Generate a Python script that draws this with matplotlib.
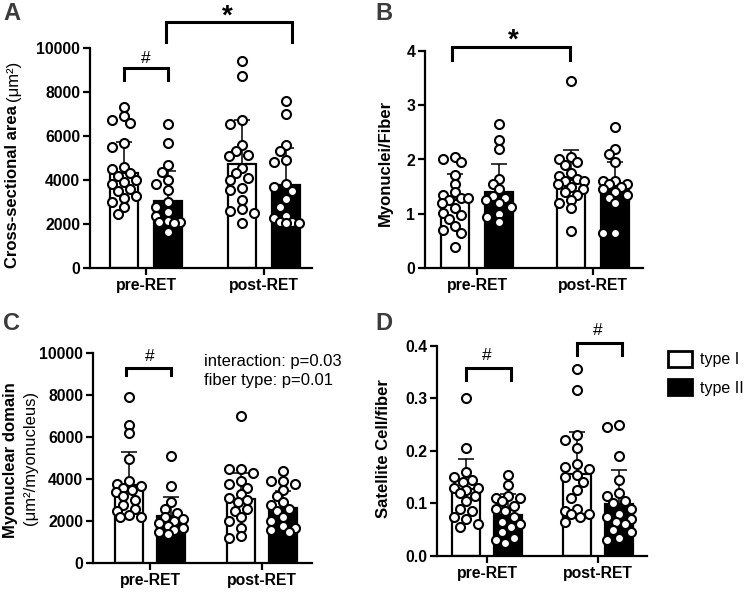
import numpy as np
import matplotlib
matplotlib.use("Agg")
import matplotlib.pyplot as plt
from matplotlib.patches import Patch

plt.rcParams['font.family'] = ['Liberation Sans', 'DejaVu Sans']

# ---------------- data ----------------
groups = ["pre-RET", "post-RET"]
fiber_types = ["type I", "type II"]

# A: cross-sectional area (um^2)
csa_pre_I = [7300, 6900, 6700, 6600, 5700, 5500, 4600, 4500, 4300, 4200, 4000, 3900, 3800, 3600, 3500, 3300, 3200, 3000, 2800, 2450]
csa_pre_II = [6550, 5700, 4700, 4350, 4000, 3800, 3550, 3000, 2800, 2550, 2350, 2150, 2100, 2100, 2050, 1650]
csa_post_I = [9400, 8700, 6700, 6550, 5600, 5300, 5150, 5100, 4550, 4300, 4100, 4000, 3650, 3550, 3100, 2700, 2600, 2500, 2050]
csa_post_II = [7600, 7000, 5600, 5300, 4900, 4800, 3800, 3700, 3500, 3150, 2800, 2350, 2300, 2100, 2100, 2050, 2050]
csa_mean = [4330, 3065, 4710, 3780]
csa_sd = [1410, 1345, 2010, 1670]

# B: myonuclei per fiber
mn_pre_I = [2.05, 2.0, 1.95, 1.72, 1.55, 1.4, 1.35, 1.3, 1.3, 1.25, 1.2, 1.1, 1.02, 0.98, 0.9, 0.78, 0.7, 0.65, 0.4]
mn_pre_II = [2.65, 2.35, 2.2, 1.65, 1.55, 1.45, 1.32, 1.3, 1.25, 1.2, 1.13, 1.0, 0.95, 0.85]
mn_post_I = [3.45, 2.05, 2.0, 1.95, 1.9, 1.75, 1.7, 1.65, 1.6, 1.6, 1.55, 1.5, 1.45, 1.4, 1.35, 1.25, 1.2, 1.1, 0.68]
mn_post_II = [2.6, 2.2, 2.1, 1.95, 1.6, 1.6, 1.55, 1.55, 1.5, 1.45, 1.4, 1.35, 1.3, 1.2, 0.65, 0.65]
mn_mean = [1.26, 1.41, 1.62, 1.50]
mn_sd = [0.47, 0.51, 0.55, 0.45]

# C: myonuclear domain
md_pre_I = [7900, 6600, 6200, 4950, 3900, 3800, 3700, 3600, 3500, 3400, 3200, 3000, 2800, 2600, 2500, 2300, 2200, 2200]
md_pre_II = [5100, 3700, 2900, 2600, 2400, 2200, 2100, 2000, 1900, 1800, 1700, 1600, 1500, 1400]
md_post_I = [7000, 4500, 4500, 4300, 3900, 3800, 3600, 3300, 3100, 3000, 2900, 2600, 2500, 2200, 2000, 1700, 1300, 1200]
md_post_II = [4400, 3900, 3900, 3800, 3500, 3200, 2900, 2800, 2600, 2500, 2200, 2000, 1800, 1700, 1600, 1500]
md_mean = [3720, 2260, 3050, 2620]
md_sd = [1600, 920, 1250, 800]

# D: satellite cells per fiber
sc_pre_I = [0.30, 0.205, 0.16, 0.15, 0.145, 0.14, 0.13, 0.13, 0.125, 0.12, 0.115, 0.105, 0.09, 0.085, 0.075, 0.07, 0.06, 0.055]
sc_pre_II = [0.155, 0.135, 0.115, 0.11, 0.11, 0.105, 0.095, 0.09, 0.085, 0.075, 0.065, 0.06, 0.055, 0.045, 0.035, 0.03, 0.025]
sc_post_I = [0.355, 0.315, 0.23, 0.22, 0.205, 0.175, 0.17, 0.165, 0.155, 0.15, 0.14, 0.125, 0.11, 0.09, 0.085, 0.08, 0.08, 0.075, 0.065]
sc_post_II = [0.25, 0.245, 0.19, 0.145, 0.12, 0.115, 0.105, 0.1, 0.09, 0.08, 0.075, 0.07, 0.065, 0.06, 0.05, 0.045, 0.035, 0.03]
sc_mean = [0.127, 0.078, 0.156, 0.099]
sc_sd = [0.057, 0.040, 0.079, 0.065]

W, H = 750, 594
fig = plt.figure(figsize=(W / 100, H / 100), dpi=100)

TICKFS = 11.3
LABFS = 12
HASHFS = 12.5
STARFS = 20


def make_axes(left, top, right, bottom, g0, g1):
    ax = fig.add_axes([left / W, 1 - bottom / H, (right - left) / W, (bottom - top) / H])
    span = g1 - g0
    ax.set_xlim((left - g0) / span, (right - g0) / span)
    return ax, span


def swarm_offsets(ax, xc, vals, min_dist=8.0, spread=13.0):
    pts = ax.transData.transform(np.column_stack([np.full(len(vals), xc), vals]))
    ypx = pts[:, 1]
    x0 = pts[0, 0]
    cands = [0, -6, 6, -12, 12, -3, 3, -9, 9, -13, 13]
    placed = []
    xs = []
    for y in ypx:
        best, bestd = 0, -1
        for c in cands:
            if abs(c) > spread:
                continue
            d = min([np.hypot(c - px, y - py) for px, py in placed] + [1e9])
            if d >= min_dist:
                best = c
                bestd = d
                break
            if d > bestd:
                best, bestd = c, d
        placed.append((best, y))
        xs.append(x0 + best)
    inv = ax.transData.inverted()
    out = inv.transform(np.column_stack([xs, ypx]))
    return out[:, 0]


def panel(ax, span, off_px, data, means, sds, ylim, yticks, yticklabels):
    ax.set_ylim(*ylim)
    off = off_px / span
    bw = 28 / span
    xpos = [0 - off, 0 + off, 1 - off, 1 + off]
    colors = ['white', 'black', 'white', 'black']
    for x, m, s, c in zip(xpos, means, sds, colors):
        ax.errorbar([x], [m], yerr=[s], fmt='none', ecolor='black', elinewidth=1.1,
                    capsize=6, capthick=1.1, zorder=1)
        ax.bar([x], [m], width=bw, color=c, edgecolor='black', linewidth=1.6, zorder=2)
    for x, vals in zip(xpos, data):
        xs = swarm_offsets(ax, x, vals)
        ax.scatter(xs, vals, s=42, facecolor='white', edgecolor='black',
                   linewidth=1.5, zorder=3, clip_on=False)
    for sp in ['top', 'right']:
        ax.spines[sp].set_visible(False)
    for sp in ['left', 'bottom']:
        ax.spines[sp].set_linewidth(1.6)
    ax.set_xticks([0, 1])
    ax.set_xticklabels(groups, fontsize=TICKFS, fontweight='bold')
    ax.set_yticks(yticks)
    ax.set_yticklabels(yticklabels, fontsize=TICKFS, fontweight='bold')
    ax.tick_params(width=1.6, length=5, direction='out', pad=2)
    return xpos


def bracket(ax, x1, x2, y_top, y_low, lw=2.2):
    ax.plot([x1, x1, x2, x2], [y_low, y_top, y_top, y_low], color='black', lw=lw,
            clip_on=False, solid_joinstyle='miter', zorder=4)


LETTER_COLOR = '#3c3c3c'

# ---------- Panel A ----------
axA, spA = make_axes(90, 47.7, 312, 268.3, 146, 264)
xA = panel(axA, spA, 22, [csa_pre_I, csa_pre_II, csa_post_I, csa_post_II], csa_mean, csa_sd,
           (0, 10000), [0, 2000, 4000, 6000, 8000, 10000], ['0', '2000', '4000', '6000', '8000', '10000'])
bracket(axA, xA[0], xA[1], 9094, 8535)
axA.text((xA[0] + xA[1]) / 2, 9300, '#', ha='center', va='baseline', fontsize=HASHFS)
bracket(axA, xA[1] - 0.02, xA[3] + 0.05, 11165, 10258)
axA.text((xA[1] + xA[3]) / 2, 11080, '*', ha='center', va='baseline', fontsize=STARFS, fontweight='bold')

fig.text(13 / W, 1 - 101 / H, 'Cross-sectional area ', rotation=90, rotation_mode='anchor',
         ha='right', va='center', fontsize=LABFS, fontweight='bold')
fig.text(13 / W, 1 - 101 / H, '(μm²)', rotation=90, rotation_mode='anchor',
         ha='left', va='center', fontsize=LABFS)

# ---------- Panel B ----------
axB, spB = make_axes(425, 50.7, 643, 268.3, 477, 593)
xB = panel(axB, spB, 22, [mn_pre_I, mn_pre_II, mn_post_I, mn_post_II], mn_mean, mn_sd,
           (0, 4), [0, 1, 2, 3, 4], ['0', '1', '2', '3', '4'])
bracket(axB, xB[0] - 0.03, xB[2] - 0.01, 4.07, 3.82)
axB.text((xB[0] + xB[2]) / 2, 4.05, '*', ha='center', va='baseline', fontsize=STARFS, fontweight='bold')
fig.text(385 / W, 1 - 163 / H, 'Myonuclei/Fiber', rotation=90, ha='center', va='center',
         fontsize=LABFS, fontweight='bold')

# ---------- Panel C ----------
axC, spC = make_axes(93, 353.3, 312, 563.3, 150, 262)
xC = panel(axC, spC, 21, [md_pre_I, md_pre_II, md_post_I, md_post_II], md_mean, md_sd,
           (0, 10000), [0, 2000, 4000, 6000, 8000, 10000], ['0', '2000', '4000', '6000', '8000', '10000'])
bracket(axC, xC[0] - 0.03, xC[1], 9286, 8967)
axC.text((xC[0] + xC[1]) / 2, 9650, '#', ha='center', va='baseline', fontsize=HASHFS)
fig.text(204 / W, 1 - 361.5 / H, 'interaction: p=0.03', ha='left', va='center', fontsize=12)
fig.text(204 / W, 1 - 380.5 / H, 'fiber type: p=0.01', ha='left', va='center', fontsize=12)
fig.text(11 / W, 1 - 460 / H, 'Myonuclear domain', rotation=90, ha='center', va='center',
         fontsize=LABFS, fontweight='bold')
fig.text(31 / W, 1 - 458 / H, '(μm²/myonucleus)', rotation=90, ha='center', va='center',
         fontsize=LABFS)

# ---------- Panel D ----------
axD, spD = make_axes(437, 345.7, 647, 556, 487, 598)
xD = panel(axD, spD, 21, [sc_pre_I, sc_pre_II, sc_post_I, sc_post_II], sc_mean, sc_sd,
           (0, 0.4), [0, 0.1, 0.2, 0.3, 0.4], ['0.0', '0.1', '0.2', '0.3', '0.4'])
bracket(axD, xD[0], xD[1] + 0.03, 0.357, 0.335)
axD.text((xD[0] + xD[1]) / 2, 0.372, '#', ha='center', va='baseline', fontsize=HASHFS)
bracket(axD, xD[2], xD[3] + 0.03, 0.4045, 0.382)
axD.text((xD[2] + xD[3]) / 2, 0.42, '#', ha='center', va='baseline', fontsize=HASHFS)
fig.text(383 / W, 1 - 449 / H, 'Satellite Cell/fiber', rotation=90, ha='center', va='center',
         fontsize=LABFS, fontweight='bold')

handles = [Patch(facecolor='white', edgecolor='black', linewidth=2.0),
           Patch(facecolor='black', edgecolor='black', linewidth=2.0)]
fig.legend(handles, fiber_types, loc='upper left', bbox_to_anchor=(668 / W, 1 - 351 / H),
           frameon=False, fontsize=11.5, handlelength=1.5, handleheight=1.15,
           handletextpad=0.5, labelspacing=0.75, borderaxespad=0, borderpad=0)

# panel letters
for lbl, x, y in [('A', 3, 2), ('B', 375, 2), ('C', 3, 312), ('D', 375, 312)]:
    fig.text(x / W, 1 - y / H, lbl, ha='left', va='top', fontsize=17, fontweight='bold',
             color=LETTER_COLOR)

fig.savefig('out.png', dpi=100, facecolor='white')
